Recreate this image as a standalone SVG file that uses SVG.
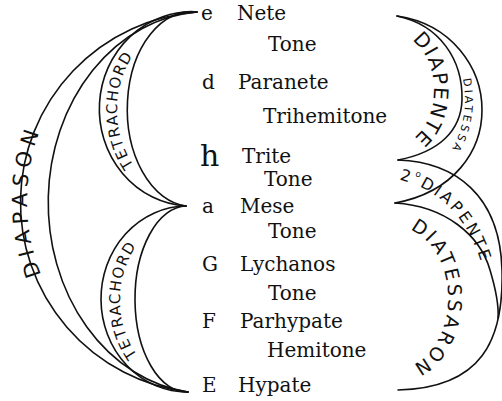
<svg xmlns="http://www.w3.org/2000/svg" width="502" height="401" viewBox="0 0 502 401">
<style>
.arc{fill:none;stroke:#111;stroke-width:1.6;stroke-linecap:round;stroke-linejoin:round}
.note{font-family:"DejaVu Serif","Liberation Serif",serif;font-size:20px;fill:#111}
.big{font-size:30px}
.lab{font-family:"DejaVu Sans","Liberation Sans",sans-serif;fill:#111;dominant-baseline:central}
</style>
<defs>
<path id="pDiapason" d="M192,389 A172,188 0 0 1 192,13"/>
<path id="pTetraTop" d="M190,202 A78,92 0 0 1 190,18"/>
<path id="pTetraBot" d="M188,388 A73,88 0 0 1 188,212"/>
<path id="pDiapente1" d="M395,28 A46,62 0 0 1 395,152"/>
<path id="pDiatessa" d="M400,15 A69,85 0 0 1 400,185"/>
<path id="pDiapente2" d="M380,171 C435,174 482,212 493,290 L495,320"/>
<path id="pDiatessaron" d="M375,224.5 A60,78 0 1 1 375,371.5"/>
</defs>
<rect width="502" height="401" fill="#fff"/>
<g id="connectors">
<path class="arc" d="M197,12 A191,191 0 0 0 188,392"/>
<path class="arc" d="M197,12 A160,191 0 0 0 188,392"/>
<path class="arc" d="M197,12 A92,97 0 0 0 186,206"/>
<path class="arc" d="M197,12 A64,97 0 0 0 186,206"/>
<path class="arc" d="M186,206 A86,93 0 0 0 188,392"/>
<path class="arc" d="M186,206 A52,93 0 0 0 188,392"/>
<path class="arc" d="M397,16 C452,24 482,68 482,110 C482,150 455,192 395,203"/>
<path class="arc" d="M397,16 C440,25 463,60 462,100 C461,130 440,152 398,160"/>
<path class="arc" d="M398,160 C455,162 500,195 502,270 C504,340 482,388 398,390"/>
<path class="arc" d="M395,203 C445,206 480,235 490,270 C496,290 499,305 498,318"/>
</g>
<g id="label-diapason"><text class="lab" font-size="21" letter-spacing="6"><textPath href="#pDiapason" startOffset="50%" text-anchor="middle">DIAPASON</textPath></text></g>
<g id="label-tetrachord-upper"><text class="lab" font-size="15" letter-spacing="2"><textPath href="#pTetraTop" startOffset="50%" text-anchor="middle">TETRACHORD</textPath></text></g>
<g id="label-tetrachord-lower"><text class="lab" font-size="15" letter-spacing="2"><textPath href="#pTetraBot" startOffset="50%" text-anchor="middle">TETRACHORD</textPath></text></g>
<g id="label-diapente-upper"><text class="lab" font-size="20" letter-spacing="3"><textPath href="#pDiapente1" startOffset="50%" text-anchor="middle">DIAPENTE</textPath></text></g>
<g id="label-diatessa"><text class="lab" font-size="11" letter-spacing="3"><textPath href="#pDiatessa" startOffset="57%" text-anchor="middle">DIATESSA</textPath></text></g>
<g id="label-diapente-lower"><text class="lab" font-size="16" letter-spacing="3.5"><textPath href="#pDiapente2" startOffset="21">2<tspan font-size="9" dy="-5">o</tspan><tspan dy="5">DIAPENTE</tspan></textPath></text></g>
<g id="label-diatessaron"><text class="lab" font-size="19" letter-spacing="4"><textPath href="#pDiatessaron" startOffset="50%" text-anchor="middle">DIATESSARON</textPath></text></g>
<g id="nete"><text class="note" x="201" y="20">e</text><text class="note" x="237" y="20">Nete</text></g>
<g id="tone1"><text class="note" x="268" y="51">Tone</text></g>
<g id="paranete"><text class="note" x="202" y="89">d</text><text class="note" x="238" y="89">Paranete</text></g>
<g id="trihemitone"><text class="note" x="263" y="123">Trihemitone</text></g>
<g id="trite"><text class="note big" x="200" y="166">h</text><text class="note" x="242" y="163">Trite</text></g>
<g id="tone2"><text class="note" x="264" y="186">Tone</text></g>
<g id="mese"><text class="note" x="202" y="213">a</text><text class="note" x="240" y="213">Mese</text></g>
<g id="tone3"><text class="note" x="268" y="238">Tone</text></g>
<g id="lychanos"><text class="note" x="202" y="271">G</text><text class="note" x="240" y="271">Lychanos</text></g>
<g id="tone4"><text class="note" x="268" y="300">Tone</text></g>
<g id="parhypate"><text class="note" x="202" y="328">F</text><text class="note" x="240" y="328">Parhypate</text></g>
<g id="hemitone"><text class="note" x="267" y="357">Hemitone</text></g>
<g id="hypate"><text class="note" x="202" y="392">E</text><text class="note" x="238" y="392">Hypate</text></g>
</svg>
